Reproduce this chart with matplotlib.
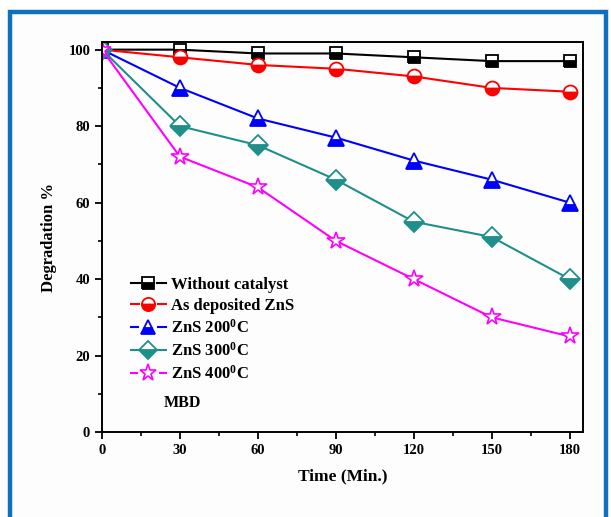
import matplotlib
matplotlib.use("Agg")
import matplotlib.pyplot as plt
from matplotlib.patches import Rectangle
from matplotlib.lines import Line2D
from matplotlib.legend_handler import HandlerLine2D

# reaction time (min) and degradation values for each sample
tiempo = [0, 30, 60, 90, 120, 150, 180]
sin_catalizador = [100, 100, 99, 99, 98, 97, 97]
zns_depositado = [100, 98, 96, 95, 93, 90, 89]
zns_200 = [100, 90, 82, 77, 71, 66, 60]
zns_300 = [100, 80, 75, 66, 55, 51, 40]
zns_400 = [100, 72, 64, 50, 40, 30, 25]

etiquetas = ["Without catalyst", "As deposited ZnS", r"ZnS 200$^{0}$C",
             r"ZnS 300$^{0}$C", r"ZnS 400$^{0}$C"]


# legend key drawn as "-marker-": two short dashes with a gap around the marker
class HandlerHueco(HandlerLine2D):
    def create_artists(self, legend, orig_handle, xdescent, ydescent,
                       width, height, fontsize, trans):
        y = (height - ydescent) / 2
        x0 = -xdescent
        x1 = -xdescent + width
        xm = (x0 + x1) / 2
        g = orig_handle.get_markersize() * legend.markerscale / 2 + 2.0
        arts = []
        for xa, xb in [(x0, xm - g), (xm + g, x1)]:
            seg = Line2D([xa, xb], [y, y])
            self.update_prop(seg, orig_handle, legend)
            seg.set_marker('None')
            seg.set_transform(trans)
            arts.append(seg)
        mk = Line2D([xm], [y])
        self.update_prop(mk, orig_handle, legend)
        mk.set_linestyle('None')
        mk.set_markersize(orig_handle.get_markersize() * legend.markerscale)
        mk.set_transform(trans)
        arts.append(mk)
        return arts


plt.rcParams['font.family'] = ['Liberation Serif', 'DejaVu Serif']
plt.rcParams['font.weight'] = 'bold'
plt.rcParams['mathtext.fontset'] = 'custom'
plt.rcParams['mathtext.rm'] = 'Liberation Serif:bold'
plt.rcParams['mathtext.it'] = 'Liberation Serif:bold'
plt.rcParams['mathtext.bf'] = 'Liberation Serif:bold'

fig = plt.figure(figsize=(6.11, 5.17), dpi=100)
fig.patch.set_facecolor('white')

# blue frame around the figure
marco = Rectangle((10 / 611, -0.05), 596 / 611, 1.05 - 12 / 517,
                  transform=fig.transFigure, facecolor='#fdfdfd',
                  edgecolor='#0f70c2', linewidth=3.2, zorder=-10)
fig.patches.append(marco)

ax = fig.add_axes([102 / 611, 85 / 517, 480.5 / 611, 390 / 517])
ax.set_facecolor('#fdfdfd')

estilos = [
    (sin_catalizador, 'black', 's', 9),
    (zns_depositado, 'red', 'o', 10),
    (zns_200, 'blue', '^', 11),
    (zns_300, '#1f8f8a', 'D', 10),
]
for (serie, color, marcador, tam), etiqueta in zip(estilos, etiquetas):
    ax.plot(tiempo, serie, color=color, linewidth=1.5, marker=marcador,
            markersize=tam, fillstyle='bottom', markerfacecolor=color,
            markerfacecoloralt='white', markeredgecolor=color,
            markeredgewidth=1.3, label=etiqueta)

ax.plot(tiempo, zns_400, color='magenta', linewidth=1.5, marker='*',
        markersize=13, markerfacecolor='white', markeredgecolor='magenta',
        markeredgewidth=1.2, label=etiquetas[4])

ax.set_xlim(0, 185)
ax.set_ylim(0, 102)
ax.set_xticks(tiempo)
ax.set_xticks(range(15, 180, 30), minor=True)
ax.set_yticks(range(0, 101, 20))
ax.set_yticks(range(10, 100, 20), minor=True)
ax.tick_params(which='major', direction='out', length=5, width=1.3,
               labelsize=10.5)
ax.tick_params(which='minor', direction='out', length=3, width=1.2)
for lab in ax.get_xticklabels() + ax.get_yticklabels():
    lab.set_fontweight('bold')
for sp in ax.spines.values():
    sp.set_linewidth(1.4)

ax.set_xlabel("Time (Min.)", fontsize=12.5, fontweight='bold', labelpad=8)
ax.set_ylabel("Degradation %", fontsize=12, fontweight='bold', labelpad=8)

ley = ax.legend(loc='upper left', bbox_to_anchor=(0.046, 0.415), frameon=False,
                fontsize=12, handlelength=2.1, handletextpad=0.3,
                labelspacing=0.31, borderaxespad=0, markerscale=0.95,
                handler_map={Line2D: HandlerHueco()})
for t in ley.get_texts():
    t.set_fontweight('bold')

ax.text(0.128, 0.065, "MBD", transform=ax.transAxes, fontsize=11.5,
        fontweight='bold')

fig.savefig("out.png", dpi=100)
